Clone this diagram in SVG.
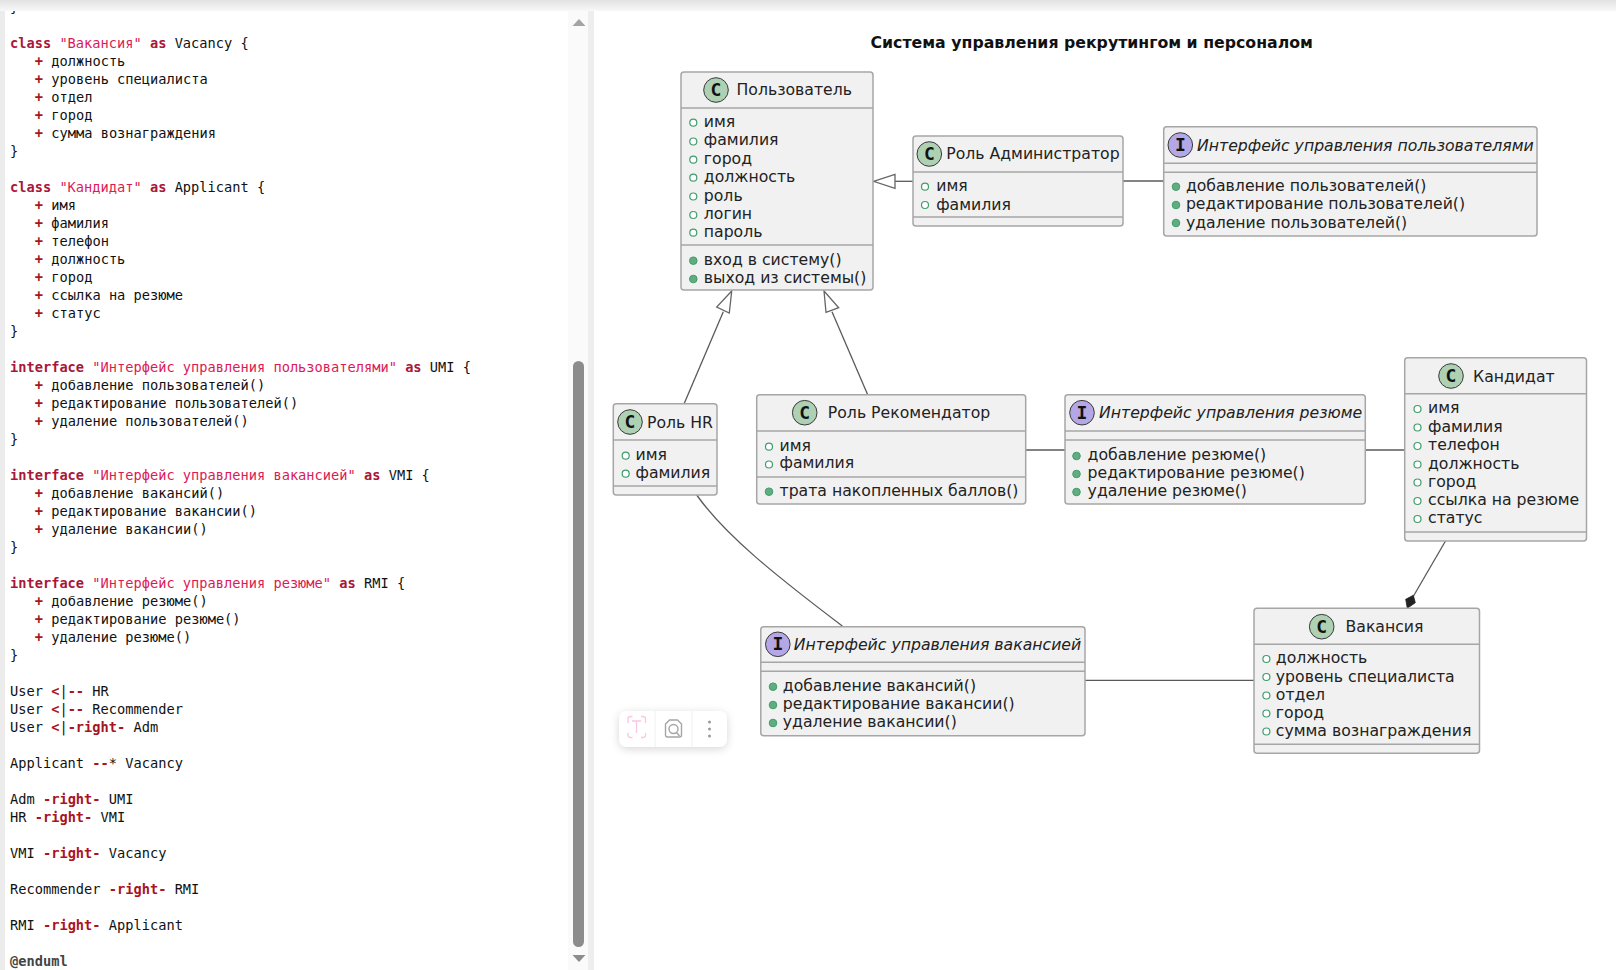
<svg xmlns="http://www.w3.org/2000/svg" width="1616" height="970" viewBox="0 0 1616 970">
<style>
.bg{fill:#fff}
.code{font-family:"DejaVu Sans Mono","Liberation Mono",monospace;font-size:13.68px;fill:#111;white-space:pre}
.k{font-weight:700;fill:#a8173a}
.s{fill:#dc1a55}
.o{font-weight:700;fill:#a8141f}
.box{fill:#f1f1f1;stroke:#a6a6a6;stroke-width:1.5}
.sep{stroke:#a6a6a6;stroke-width:1.5;fill:none}
.ci{stroke:#3a3a3a;stroke-width:1}
.cc{fill:#add1b2}
.ci2{fill:#b4a7e5}
.g{font-family:"DejaVu Sans Mono",monospace;font-weight:700;font-size:18px;fill:#111;text-anchor:middle}
.t{font-family:"DejaVu Sans",sans-serif;font-size:15.7px;fill:#222}
.i{font-style:italic}
.a{fill:#fff;stroke:#3f9d6c;stroke-width:1.2}
.m{fill:#62ad7f;stroke:#3f9d6c;stroke-width:1}
.ln{fill:none;stroke:#5a5a5a;stroke-width:1.3}
.tri{fill:#fff;stroke:#666;stroke-width:1.3}
.title{font-family:"DejaVu Sans",sans-serif;font-weight:700;font-size:15.75px;fill:#111}
</style>
<defs>
<linearGradient id="top" x1="0" y1="0" x2="0" y2="1"><stop offset="0" stop-color="#e2e2e2"/><stop offset="1" stop-color="#f8f8f8"/></linearGradient>
<filter id="sh" x="-20%" y="-40%" width="140%" height="190%"><feDropShadow dx="0" dy="2" stdDeviation="4" flood-color="#000" flood-opacity=".16"/></filter>
<clipPath id="cp"><rect x="5" y="11" width="565" height="959"/></clipPath>
</defs>
<rect class="bg" width="1616" height="970"/>
<g id="editor">
<rect x="0" y="11" width="5" height="959" fill="#ececec"/>
<rect x="568" y="11" width="20" height="959" fill="#fafafa"/>
<rect x="588" y="11" width="6" height="959" fill="#eeeeee"/>
<rect x="0" y="0" width="1616" height="11" fill="url(#top)"/>
<path d="M572.500 26h13l-6.500-7z" fill="#a3a3a3"/>
<path d="M572.500 955h13l-6.500 7z" fill="#8c8c8c"/>
<rect x="573" y="361" width="11" height="586" rx="5.500" fill="#8c8c8c"/>
<g clip-path="url(#cp)" class="code">
<text x="10" y="12.300">}</text>
<text x="10" y="48.300"><tspan class="k">class</tspan> <tspan class="s">"Вакансия"</tspan> <tspan class="k">as</tspan> Vacancy {</text>
<text x="34.800" y="66.300"><tspan class="o">+</tspan> должность</text>
<text x="34.800" y="84.300"><tspan class="o">+</tspan> уровень специалиста</text>
<text x="34.800" y="102.300"><tspan class="o">+</tspan> отдел</text>
<text x="34.800" y="120.300"><tspan class="o">+</tspan> город</text>
<text x="34.800" y="138.300"><tspan class="o">+</tspan> сумма вознаграждения</text>
<text x="10" y="156.300">}</text>
<text x="10" y="192.300"><tspan class="k">class</tspan> <tspan class="s">"Кандидат"</tspan> <tspan class="k">as</tspan> Applicant {</text>
<text x="34.800" y="210.300"><tspan class="o">+</tspan> имя</text>
<text x="34.800" y="228.300"><tspan class="o">+</tspan> фамилия</text>
<text x="34.800" y="246.300"><tspan class="o">+</tspan> телефон</text>
<text x="34.800" y="264.300"><tspan class="o">+</tspan> должность</text>
<text x="34.800" y="282.300"><tspan class="o">+</tspan> город</text>
<text x="34.800" y="300.300"><tspan class="o">+</tspan> ссылка на резюме</text>
<text x="34.800" y="318.300"><tspan class="o">+</tspan> статус</text>
<text x="10" y="336.300">}</text>
<text x="10" y="372.300"><tspan class="k">interface</tspan> <tspan class="s">"Интерфейс управления пользователями"</tspan> <tspan class="k">as</tspan> UMI {</text>
<text x="34.800" y="390.300"><tspan class="o">+</tspan> добавление пользователей()</text>
<text x="34.800" y="408.300"><tspan class="o">+</tspan> редактирование пользователей()</text>
<text x="34.800" y="426.300"><tspan class="o">+</tspan> удаление пользователей()</text>
<text x="10" y="444.300">}</text>
<text x="10" y="480.300"><tspan class="k">interface</tspan> <tspan class="s">"Интерфейс управления вакансией"</tspan> <tspan class="k">as</tspan> VMI {</text>
<text x="34.800" y="498.300"><tspan class="o">+</tspan> добавление вакансий()</text>
<text x="34.800" y="516.300"><tspan class="o">+</tspan> редактирование вакансии()</text>
<text x="34.800" y="534.300"><tspan class="o">+</tspan> удаление вакансии()</text>
<text x="10" y="552.300">}</text>
<text x="10" y="588.300"><tspan class="k">interface</tspan> <tspan class="s">"Интерфейс управления резюме"</tspan> <tspan class="k">as</tspan> RMI {</text>
<text x="34.800" y="606.300"><tspan class="o">+</tspan> добавление резюме()</text>
<text x="34.800" y="624.300"><tspan class="o">+</tspan> редактирование резюме()</text>
<text x="34.800" y="642.300"><tspan class="o">+</tspan> удаление резюме()</text>
<text x="10" y="660.300">}</text>
<text x="10" y="696.300">User <tspan class="o">&lt;</tspan>|<tspan class="o">--</tspan> HR</text>
<text x="10" y="714.300">User <tspan class="o">&lt;</tspan>|<tspan class="o">--</tspan> Recommender</text>
<text x="10" y="732.300">User <tspan class="o">&lt;</tspan>|<tspan class="o">-right-</tspan> Adm</text>
<text x="10" y="768.300">Applicant <tspan class="o">--</tspan>* Vacancy</text>
<text x="10" y="804.300">Adm <tspan class="o">-right-</tspan> UMI</text>
<text x="10" y="822.300">HR <tspan class="o">-right-</tspan> VMI</text>
<text x="10" y="858.300">VMI <tspan class="o">-right-</tspan> Vacancy</text>
<text x="10" y="894.300">Recommender <tspan class="o">-right-</tspan> RMI</text>
<text x="10" y="930.300">RMI <tspan class="o">-right-</tspan> Applicant</text>
<text x="10" y="966.300" font-weight="700" fill="#444">@enduml</text>
</g>
</g>
<g id="toolbar">
<rect x="619" y="711" width="108" height="36" rx="8" fill="#fff" filter="url(#sh)"/>
<path d="M655 711v36M692 711v36" stroke="#f0f0f0" stroke-width="1"/>
<g fill="none" stroke="#f8c8e4" stroke-width="1.300">
<path d="M628 723v-4a2.500 2.500 0 0 1 2.500-2.500h2M641 716.500h2a2.500 2.500 0 0 1 2.500 2.500v4M628 733v2a2.500 2.500 0 0 0 2.500 2.500h2M641 737.500h2a2.500 2.500 0 0 0 2.500-2.500v-2"/>
<path d="M632 721h9M636.500 721v12"/>
</g>
<g fill="none" stroke="#a5a5a5" stroke-width="1.400">
<path d="M665.500 735v-11l4-4h8l4 4v11a2 2 0 0 1-2 2h-12a2 2 0 0 1-2-2z"/>
<circle cx="673.500" cy="729" r="4.500"/>
<path d="M676.500 732.500l3 3.500"/>
</g>
<g fill="#9a9a9a"><circle cx="709.500" cy="722" r="1.500"/><circle cx="709.500" cy="729" r="1.500"/><circle cx="709.500" cy="736" r="1.500"/></g>
</g>
<text id="title" class="title" x="870.500" y="48.300">Система управления рекрутингом и персоналом</text>
<g id="connectors">
<path class="ln" d="M913 181.300H895"/>
<path class="tri" d="M873.500 181.300L895 174.300V188.300Z"/>
<path class="ln" d="M684 404L723.300 311.700"/>
<path class="tri" d="M731.700 291L716.700 307L729.300 313Z"/>
<path class="ln" d="M867.700 394.700L832 311.700"/>
<path class="tri" d="M824 291L826 312.300L838.700 307.700Z"/>
<path class="ln" d="M1123 181H1164"/>
<path class="ln" d="M1025.700 450H1065"/>
<path class="ln" d="M1364.500 450H1405"/>
<path class="ln" d="M1085 680.300H1254"/>
<path class="ln" d="M696.700 495C725 535 775 575 842.300 626"/>
<path class="ln" d="M1445.500 541L1413.500 596"/>
<path d="M1407.300 608.300L1405.700 599.300L1413.300 595.300L1415.300 602.700Z" fill="#222" stroke="#222" stroke-width=".8"/>
</g>
<g id="User">
<rect class="box" x="681" y="72" width="192" height="218" rx="3"/>
<path class="sep" d="M681 108H873M681 245H873"/>
<circle class="ci cc" cx="716" cy="90" r="12.300"/><text class="g" x="716" y="96">C</text>
<text class="t" x="736.500" y="95">Пользователь</text>
<circle class="a" cx="693.300" cy="122.700" r="3.500"/><text class="t" x="703.800" y="127">имя</text>
<circle class="a" cx="693.300" cy="141.500" r="3.500"/><text class="t" x="703.800" y="145.400">фамилия</text>
<circle class="a" cx="693.300" cy="159.700" r="3.500"/><text class="t" x="703.800" y="163.800">город</text>
<circle class="a" cx="693.300" cy="177.700" r="3.500"/><text class="t" x="703.800" y="182.200">должность</text>
<circle class="a" cx="693.300" cy="196.500" r="3.500"/><text class="t" x="703.800" y="200.600">роль</text>
<circle class="a" cx="693.300" cy="215" r="3.500"/><text class="t" x="703.800" y="219">логин</text>
<circle class="a" cx="693.300" cy="232.700" r="3.500"/><text class="t" x="703.800" y="237.400">пароль</text>
<circle class="m" cx="693.300" cy="260.700" r="3.800"/><text class="t" x="703.800" y="264.500">вход в систему()</text>
<circle class="m" cx="693.300" cy="279" r="3.800"/><text class="t" x="703.800" y="283">выход из системы()</text>
</g>
<g id="Adm">
<rect class="box" x="913" y="136" width="210" height="90" rx="3"/>
<path class="sep" d="M913 172H1123M913 217H1123"/>
<circle class="ci cc" cx="929.300" cy="154" r="12.300"/><text class="g" x="929.300" y="160">C</text>
<text class="t" x="946.200" y="159">Роль Администратор</text>
<circle class="a" cx="925" cy="186.700" r="3.500"/><text class="t" x="936.200" y="191">имя</text>
<circle class="a" cx="925" cy="205" r="3.500"/><text class="t" x="936.200" y="209.500">фамилия</text>
</g>
<g id="UMI">
<rect class="box" x="1163.700" y="126.700" width="373.300" height="109.300" rx="3"/>
<path class="sep" d="M1163.700 163.300H1537M1163.700 172.300H1537"/>
<circle class="ci ci2" cx="1180.300" cy="145" r="12.300"/><text class="g" x="1180.300" y="151">I</text>
<text class="t i" x="1197" y="150.700">Интерфейс управления пользователями</text>
<circle class="m" cx="1176" cy="186.700" r="3.800"/><text class="t" x="1185.900" y="190.700">добавление пользователей()</text>
<circle class="m" cx="1176" cy="205" r="3.800"/><text class="t" x="1185.900" y="209">редактирование пользователей()</text>
<circle class="m" cx="1176" cy="223" r="3.800"/><text class="t" x="1185.900" y="227.500">удаление пользователей()</text>
</g>
<g id="HR">
<rect class="box" x="613.300" y="403.700" width="103.700" height="91.300" rx="3"/>
<path class="sep" d="M613.300 440H717M613.300 486H717"/>
<circle class="ci cc" cx="630" cy="422" r="12.300"/><text class="g" x="630" y="428">C</text>
<text class="t" x="647" y="427.700">Роль HR</text>
<circle class="a" cx="625.700" cy="455.700" r="3.500"/><text class="t" x="635.500" y="460">имя</text>
<circle class="a" cx="625.700" cy="473.700" r="3.500"/><text class="t" x="635.500" y="478">фамилия</text>
</g>
<g id="Recommender">
<rect class="box" x="756.700" y="394.700" width="269" height="109.300" rx="3"/>
<path class="sep" d="M756.700 431H1025.700M756.700 477H1025.700"/>
<circle class="ci cc" cx="804.700" cy="412.700" r="12.300"/><text class="g" x="804.700" y="418.700">C</text>
<text class="t" x="827.800" y="418">Роль Рекомендатор</text>
<circle class="a" cx="769" cy="446.700" r="3.500"/><text class="t" x="779.500" y="450.700">имя</text>
<circle class="a" cx="769" cy="464.500" r="3.500"/><text class="t" x="779.500" y="468.300">фамилия</text>
<circle class="m" cx="769" cy="491.700" r="3.800"/><text class="t" x="779.500" y="495.700">трата накопленных баллов()</text>
</g>
<g id="RMI">
<rect class="box" x="1065" y="394.700" width="300.300" height="109.300" rx="3"/>
<path class="sep" d="M1065 431H1365.300M1065 440H1365.300"/>
<circle class="ci ci2" cx="1082" cy="412.700" r="12.300"/><text class="g" x="1082" y="418.700">I</text>
<text class="t i" x="1099" y="418">Интерфейс управления резюме</text>
<circle class="m" cx="1076.500" cy="456" r="3.800"/><text class="t" x="1087.600" y="460">добавление резюме()</text>
<circle class="m" cx="1076.500" cy="474" r="3.800"/><text class="t" x="1087.600" y="478.400">редактирование резюме()</text>
<circle class="m" cx="1076.500" cy="492" r="3.800"/><text class="t" x="1087.600" y="496">удаление резюме()</text>
</g>
<g id="Applicant">
<rect class="box" x="1404.700" y="357.700" width="181.800" height="183.300" rx="3"/>
<path class="sep" d="M1404.700 393.700H1586.500M1404.700 532H1586.500"/>
<circle class="ci cc" cx="1451" cy="376" r="12.300"/><text class="g" x="1451" y="382">C</text>
<text class="t" x="1473" y="382">Кандидат</text>
<circle class="a" cx="1417.500" cy="409" r="3.500"/><text class="t" x="1428" y="413.300">имя</text>
<circle class="a" cx="1417.500" cy="427.500" r="3.500"/><text class="t" x="1428" y="431.600">фамилия</text>
<circle class="a" cx="1417.500" cy="446" r="3.500"/><text class="t" x="1428" y="450">телефон</text>
<circle class="a" cx="1417.500" cy="464.500" r="3.500"/><text class="t" x="1428" y="468.500">должность</text>
<circle class="a" cx="1417.500" cy="482.500" r="3.500"/><text class="t" x="1428" y="486.500">город</text>
<circle class="a" cx="1417.500" cy="501" r="3.500"/><text class="t" x="1428" y="505">ссылка на резюме</text>
<circle class="a" cx="1417.500" cy="519" r="3.500"/><text class="t" x="1428" y="523">статус</text>
</g>
<g id="VMI">
<rect class="box" x="760.800" y="626.700" width="324.200" height="109" rx="3"/>
<path class="sep" d="M760.800 662.300H1085M760.800 671.300H1085"/>
<circle class="ci ci2" cx="777.800" cy="644.300" r="12.300"/><text class="g" x="777.800" y="650.300">I</text>
<text class="t i" x="793.800" y="650">Интерфейс управления вакансией</text>
<circle class="m" cx="773" cy="686.700" r="3.800"/><text class="t" x="782.800" y="690.700">добавление вакансий()</text>
<circle class="m" cx="773" cy="705" r="3.800"/><text class="t" x="782.800" y="709.300">редактирование вакансии()</text>
<circle class="m" cx="773" cy="723" r="3.800"/><text class="t" x="782.800" y="727">удаление вакансии()</text>
</g>
<g id="Vacancy">
<rect class="box" x="1254" y="608.300" width="225.500" height="145" rx="3"/>
<path class="sep" d="M1254 644.300H1479.500M1254 744.300H1479.500"/>
<circle class="ci cc" cx="1321.700" cy="626.700" r="12.300"/><text class="g" x="1321.700" y="632.700">C</text>
<text class="t" x="1345.500" y="632">Вакансия</text>
<circle class="a" cx="1266.400" cy="659" r="3.500"/><text class="t" x="1275.800" y="663.300">должность</text>
<circle class="a" cx="1266.400" cy="677" r="3.500"/><text class="t" x="1275.800" y="681.500">уровень специалиста</text>
<circle class="a" cx="1266.400" cy="695.500" r="3.500"/><text class="t" x="1275.800" y="700">отдел</text>
<circle class="a" cx="1266.400" cy="713.500" r="3.500"/><text class="t" x="1275.800" y="718.300">город</text>
<circle class="a" cx="1266.400" cy="731.500" r="3.500"/><text class="t" x="1275.800" y="736">сумма вознаграждения</text>
</g>
</svg>
